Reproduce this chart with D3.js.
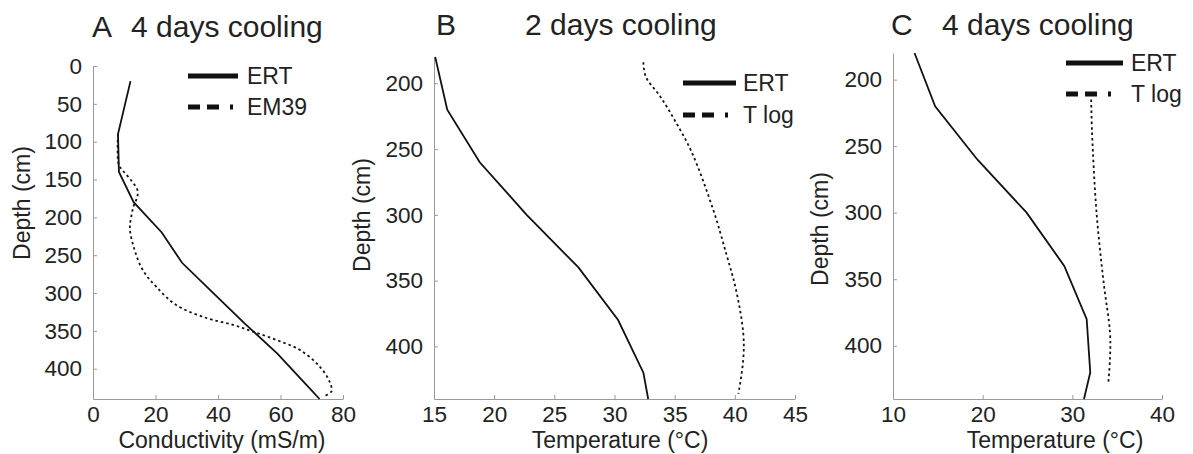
<!DOCTYPE html>
<html>
<head>
<meta charset="utf-8">
<script src="https://cdn.jsdelivr.net/npm/d3@7"></script>
<style>
  body { margin: 0; background: #fff; }
  svg text { font-family: "Liberation Sans", Arial, Helvetica, sans-serif; fill: #222; }
  .axis path, .axis line { stroke: #9a9a9a; }
  .axis text { font-size: 22.5px; fill: #222; }
</style>
</head>
<body>
<svg width="1193" height="454"></svg>
<script>
// panel A - conductivity profiles
var depthA_ERT = [20, 90, 140, 180, 220, 260, 300, 340, 380, 420, 440];
var condA_ERT = [12, 8, 8.3, 13, 22, 28.5, 38.5, 48.5, 59, 68, 72.5];
var depthA_EM39 = [90, 130, 138, 150, 165, 175, 185, 200, 215, 243, 270, 292, 316, 333, 342, 351, 362, 375, 397, 417, 430, 437];
var condA_EM39 = [8, 8.2, 9.5, 12, 14.3, 14, 13, 12.2, 11.8, 13.3, 16, 20.3, 26.7, 36.3, 44.8, 51.2, 58.7, 66.1, 72.5, 75.7, 76.3, 73.6];

// panel B - 2 days cooling
var depthB_ERT = [180, 220, 260, 300, 340, 380, 420, 440];
var tempB_ERT = [15.1, 16.1, 18.8, 22.7, 27, 30.3, 32.4, 32.8];
var depthB_Tlog = [184, 195, 210, 228, 252, 296, 330, 357, 390, 410, 436];
var tempB_Tlog = [32.4, 32.6, 33.8, 35.0, 36.4, 38.2, 39.3, 40.1, 40.7, 40.7, 40.3];

// panel C - 4 days cooling
var depthC_ERT = [180, 220, 260, 300, 340, 380, 420, 440];
var tempC_ERT = [12.4, 14.7, 19.4, 24.9, 29.1, 31.6, 32.0, 31.3];
var depthC_Tlog = [215, 240, 300, 353, 390, 410, 429];
var tempC_Tlog = [32.1, 32.2, 32.7, 33.5, 34.2, 34.2, 34.0];

// tick labels
var ticksA_x = [0, 20, 40, 60, 80];
var ticksA_y = [0, 50, 100, 150, 200, 250, 300, 350, 400];
var ticksB_x = [15, 20, 25, 30, 35, 40, 45];
var ticksC_x = [10, 20, 30, 40];
var ticksBC_y = [200, 250, 300, 350, 400];

function zip(xs, ys) {
    return xs.map(function(v, i) { return {v: v, d: ys[i]}; });
}

var svg = d3.select("svg");

var panels = [
    {
        letter: "A", title: "4 days cooling", letterX: 92, titleX: 131, titleY: 37,
        xr: [93, 343], xd: [0, 80], yr: [66, 399], yd: [0, 440],
        xt: ticksA_x, yt: ticksA_y, xlabel: "Conductivity (mS/m)", xlabelX: 222, ylabelX: 30, ylabelY: 203,
        series: [zip(condA_ERT, depthA_ERT), zip(condA_EM39, depthA_EM39)],
        names: ["ERT", "EM39"], leg: {x1: 188, x2: 238, y1: 76, y2: 107, tx: 247}
    },
    {
        letter: "B", title: "2 days cooling", letterX: 436, titleX: 525, titleY: 35,
        xr: [434, 795], xd: [15, 45], yr: [57, 399], yd: [180, 440],
        xt: ticksB_x, yt: ticksBC_y, xlabel: "Temperature (\u00B0C)", xlabelX: 620, ylabelX: 370, ylabelY: 215,
        series: [zip(tempB_ERT, depthB_ERT), zip(tempB_Tlog, depthB_Tlog)],
        names: ["ERT", "T log"], leg: {x1: 683, x2: 736, y1: 83, y2: 115, tx: 743}
    },
    {
        letter: "C", title: "4 days cooling", letterX: 891, titleX: 942, titleY: 35,
        xr: [893, 1162], xd: [10, 40], yr: [53, 399], yd: [180, 440],
        xt: ticksC_x, yt: ticksBC_y, xlabel: "Temperature (\u00B0C)", xlabelX: 1055, ylabelX: 828, ylabelY: 229,
        series: [zip(tempC_ERT, depthC_ERT), zip(tempC_Tlog, depthC_Tlog)],
        names: ["ERT", "T log"], leg: {x1: 1066, x2: 1123, y1: 63, y2: 94, tx: 1131}
    }
];

panels.forEach(function(p) {
    var x = d3.scaleLinear().domain(p.xd).range(p.xr);
    var y = d3.scaleLinear().domain(p.yd).range(p.yr);

    // axes, matlab style ticks pointing in
    svg.append("g")
        .attr("class", "axis")
        .attr("transform", "translate(0," + p.yr[1] + ")")
        .call(d3.axisBottom(x).tickValues(p.xt).tickFormat(d3.format("d")).tickSizeInner(-4).tickSizeOuter(0).tickPadding(7))
        .call(function(g) { g.select(".domain").attr("stroke", "#9a9a9a"); });

    svg.append("g")
        .attr("class", "axis")
        .attr("transform", "translate(" + p.xr[0] + ",0)")
        .call(d3.axisLeft(y).tickValues(p.yt).tickFormat(d3.format("d")).tickSizeInner(-4).tickSizeOuter(0).tickPadding(11))
        .call(function(g) { g.select(".domain").attr("stroke", "#9a9a9a"); });

    // titles
    svg.append("text").attr("x", p.letterX).attr("y", p.titleY).style("font-size", "30px").text(p.letter);
    svg.append("text").attr("x", p.titleX).attr("y", p.titleY).style("font-size", "30px").text(p.title);

    // axis labels
    svg.append("text")
        .attr("x", p.xlabelX).attr("y", 448)
        .attr("text-anchor", "middle")
        .style("font-size", "23px")
        .text(p.xlabel);

    svg.append("text")
        .attr("transform", "translate(" + p.ylabelX + "," + p.ylabelY + ") rotate(-90)")
        .attr("text-anchor", "middle")
        .style("font-size", "23px")
        .text("Depth (cm)");

    var line = d3.line()
        .x(function(d) { return x(d.v); })
        .y(function(d) { return y(d.d); });

    // solid ERT
    svg.append("path")
        .datum(p.series[0])
        .attr("fill", "none")
        .attr("stroke", "#111")
        .attr("stroke-width", 1.8)
        .attr("d", line);

    // dotted second series
    svg.append("path")
        .datum(p.series[1])
        .attr("fill", "none")
        .attr("stroke", "#111")
        .attr("stroke-width", 1.8)
        .attr("stroke-dasharray", "2.5,3")
        .attr("d", line.curve(d3.curveCatmullRom));

    // legend
    svg.append("line")
        .attr("x1", p.leg.x1).attr("x2", p.leg.x2)
        .attr("y1", p.leg.y1).attr("y2", p.leg.y1)
        .attr("stroke", "#111").attr("stroke-width", 5);
    svg.append("line")
        .attr("x1", p.leg.x1).attr("x2", p.leg.x2)
        .attr("y1", p.leg.y2).attr("y2", p.leg.y2)
        .attr("stroke", "#111").attr("stroke-width", 5)
        .attr("stroke-dasharray", "12,7,12,11,3,100");
    svg.append("text").attr("x", p.leg.tx).attr("y", p.leg.y1 + 8).style("font-size", "23px").text(p.names[0]);
    svg.append("text").attr("x", p.leg.tx).attr("y", p.leg.y2 + 8).style("font-size", "23px").text(p.names[1]);
});
</script>
</body>
</html>
